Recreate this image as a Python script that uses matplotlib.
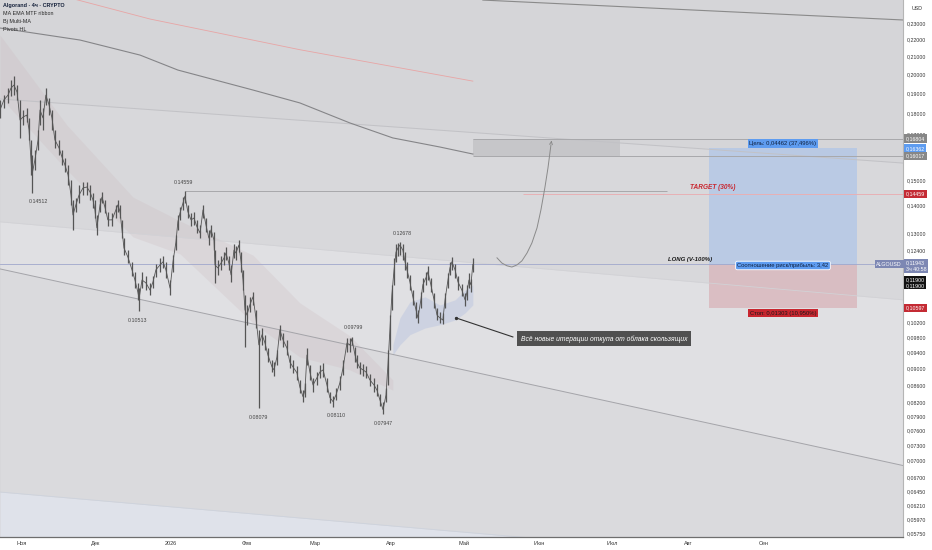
import matplotlib

matplotlib.use("Agg")
import matplotlib.dates as mdates
import matplotlib.pyplot as plt
import matplotlib.transforms as mtransforms
import numpy as np
import pandas as pd

plt.rcParams["font.family"] = ["Liberation Sans", "DejaVu Sans"]

BASE = pd.Timestamp("2025-11-01")

# ALGOUSD: days after 1 Nov 2025, close / high / low
day = [-9.0, -7.4, -5.7, -4.5, -3.3, -2.0, -0.8, 0.4, 2.0, 2.9, 3.7, 4.1, 5.3, 6.6, 7.4, 8.6,
       9.8, 11.1, 12.3, 13.5, 15.2, 16.4, 17.6, 18.9, 20.1, 20.9, 22.1, 23.4, 25.0, 26.6, 27.9,
       29.1, 29.9, 30.7, 32.0, 32.8, 34.0, 35.2, 36.9, 38.5, 39.3, 40.2, 41.0, 41.8, 43.4, 45.1,
       46.3, 47.5, 48.0, 49.2, 50.8, 52.5, 53.7, 54.9, 56.6, 57.8, 59.0, 60.7, 61.9, 63.1, 63.9,
       64.8, 66.0, 66.8, 68.0, 69.3, 70.5, 71.7, 73.0, 74.2, 75.4, 76.6, 77.5, 78.7, 79.1, 80.3,
       81.6, 82.8, 83.6, 84.8, 85.7, 86.9, 87.7, 88.9, 89.8, 90.6, 91.4, 92.2, 93.4, 94.7, 95.9,
       97.1, 98.4, 99.6, 100.8, 102.5, 103.3, 104.5, 105.7, 107.0, 108.6, 109.8, 111.1, 112.7,
       113.9, 115.2, 116.0, 116.8, 118.0, 119.3, 120.9, 122.1, 123.4, 125.0, 126.2, 127.5, 128.7,
       130.3, 131.6, 133.2, 134.4, 135.2, 136.5, 137.3, 138.5, 139.8, 141.0, 142.6, 144.3, 145.5,
       146.7, 148.0, 149.2, 150.0, 150.8, 151.6, 152.5, 153.3, 154.1, 154.9, 156.1, 157.0, 157.8,
       159.0, 160.2, 161.5, 162.3, 163.5, 164.3, 165.6, 166.4, 167.6, 168.9, 170.1, 171.3, 172.5,
       173.4, 174.6, 175.4, 176.2, 177.5, 178.7, 180.3, 181.6, 182.4, 183.2, 184.0, 184.8]
close = [0.1816, 0.1866, 0.1891, 0.1927, 0.1943, 0.1906, 0.1767, 0.1781, 0.1791, 0.1720, 0.1585,
         0.1522, 0.1585, 0.1674, 0.1816, 0.1777, 0.1891, 0.1841, 0.1777, 0.1674, 0.1638, 0.1598,
         0.1564, 0.1522, 0.1441, 0.1365, 0.1403, 0.1441, 0.1469, 0.1473, 0.1453, 0.1422, 0.1384,
         0.1318, 0.1403, 0.1433, 0.1395, 0.1347, 0.1347, 0.1384, 0.1403, 0.1377, 0.1311, 0.1248,
         0.1218, 0.1176, 0.1144, 0.1107, 0.1087, 0.1144, 0.1135, 0.1113, 0.1138, 0.1176, 0.1192,
         0.1202, 0.1176, 0.1119, 0.1202, 0.1268, 0.1340, 0.1373, 0.1410, 0.1437, 0.1377, 0.1347,
         0.1354, 0.1322, 0.1300, 0.1384, 0.1329, 0.1282, 0.1311, 0.1275, 0.1192, 0.1182, 0.1198,
         0.1214, 0.1231, 0.1198, 0.1160, 0.1241, 0.1231, 0.1258, 0.1202, 0.1144, 0.1055, 0.1040,
         0.1069, 0.1093, 0.1032, 0.0959, 0.0986, 0.0964, 0.0933, 0.0903, 0.0896, 0.0928, 0.0999,
         0.0972, 0.0951, 0.0915, 0.0903, 0.0889, 0.0855, 0.0833, 0.0848, 0.0933, 0.0891, 0.0860,
         0.0877, 0.0891, 0.0896, 0.0860, 0.0831, 0.0822, 0.0837, 0.0865, 0.0901, 0.0964, 0.0959,
         0.0975, 0.0933, 0.0915, 0.0901, 0.0896, 0.0891, 0.0872, 0.0860, 0.0848, 0.0826, 0.0804,
         0.0837, 0.0908, 0.0999, 0.1098, 0.1176, 0.1234, 0.1248, 0.1258, 0.1241, 0.1202, 0.1176,
         0.1138, 0.1093, 0.1055, 0.1032, 0.1084, 0.1129, 0.1151, 0.1170, 0.1129, 0.1084, 0.1040,
         0.1032, 0.1026, 0.1084, 0.1144, 0.1182, 0.1202, 0.1176, 0.1138, 0.1113, 0.1084, 0.1107,
         0.1144, 0.1129, 0.1194]
high = [0.1866, 0.1891, 0.1927, 0.1970, 0.1992, 0.1943, 0.1866, 0.1816, 0.1826, 0.1777, 0.1674,
        0.1607, 0.1629, 0.1720, 0.1866, 0.1826, 0.1927, 0.1876, 0.1816, 0.1720, 0.1674, 0.1629,
        0.1594, 0.1564, 0.1501, 0.1422, 0.1430, 0.1481, 0.1493, 0.1493, 0.1481, 0.1449, 0.1422,
        0.1365, 0.1430, 0.1453, 0.1422, 0.1377, 0.1373, 0.1403, 0.1422, 0.1403, 0.1347, 0.1282,
        0.1241, 0.1202, 0.1170, 0.1135, 0.1119, 0.1170, 0.1157, 0.1135, 0.1157, 0.1195, 0.1214,
        0.1221, 0.1202, 0.1144, 0.1224, 0.1293, 0.1365, 0.1395, 0.1433, 0.1456, 0.1403, 0.1373,
        0.1377, 0.1347, 0.1329, 0.1403, 0.1354, 0.1311, 0.1329, 0.1304, 0.1241, 0.1208, 0.1221,
        0.1234, 0.1251, 0.1221, 0.1192, 0.1261, 0.1255, 0.1275, 0.1234, 0.1176, 0.1098, 0.1069,
        0.1093, 0.1107, 0.1055, 0.0999, 0.1004, 0.0986, 0.0951, 0.0920, 0.0915, 0.0946, 0.1013,
        0.0991, 0.0972, 0.0933, 0.0920, 0.0906, 0.0872, 0.0848, 0.0865, 0.0951, 0.0908, 0.0877,
        0.0891, 0.0908, 0.0913, 0.0877, 0.0844, 0.0835, 0.0853, 0.0882, 0.0920, 0.0978, 0.0977,
        0.0980, 0.0954, 0.0933, 0.0915, 0.0910, 0.0906, 0.0886, 0.0877, 0.0862, 0.0840, 0.0822,
        0.0853, 0.0946, 0.1040, 0.1129, 0.1214, 0.1261, 0.1265, 0.1268, 0.1262, 0.1234, 0.1202,
        0.1160, 0.1113, 0.1078, 0.1055, 0.1107, 0.1151, 0.1170, 0.1189, 0.1151, 0.1104, 0.1060,
        0.1049, 0.1046, 0.1104, 0.1166, 0.1202, 0.1218, 0.1195, 0.1157, 0.1132, 0.1104, 0.1129,
        0.1166, 0.1148, 0.1214]
low = [0.1777, 0.1826, 0.1851, 0.1886, 0.1891, 0.1866, 0.1683, 0.1743, 0.1757, 0.1674, 0.1522,
       0.1451, 0.1543, 0.1629, 0.1743, 0.1720, 0.1841, 0.1791, 0.1720, 0.1638, 0.1607, 0.1564,
       0.1535, 0.1481, 0.1403, 0.1311, 0.1377, 0.1410, 0.1441, 0.1441, 0.1422, 0.1392, 0.1354,
       0.1293, 0.1377, 0.1410, 0.1373, 0.1325, 0.1325, 0.1354, 0.1377, 0.1354, 0.1282, 0.1224,
       0.1198, 0.1157, 0.1119, 0.1084, 0.1051, 0.1119, 0.1113, 0.1098, 0.1119, 0.1154, 0.1170,
       0.1182, 0.1151, 0.1098, 0.1170, 0.1241, 0.1311, 0.1347, 0.1384, 0.1410, 0.1354, 0.1325,
       0.1329, 0.1300, 0.1282, 0.1354, 0.1304, 0.1258, 0.1286, 0.1241, 0.1135, 0.1160, 0.1176,
       0.1192, 0.1208, 0.1176, 0.1138, 0.1214, 0.1208, 0.1234, 0.1170, 0.1113, 0.0954, 0.1013,
       0.1049, 0.1069, 0.1004, 0.0808, 0.0959, 0.0946, 0.0915, 0.0891, 0.0882, 0.0908, 0.0972,
       0.0954, 0.0933, 0.0901, 0.0889, 0.0872, 0.0842, 0.0822, 0.0833, 0.0908, 0.0872, 0.0844,
       0.0860, 0.0877, 0.0879, 0.0844, 0.0819, 0.0811, 0.0826, 0.0848, 0.0884, 0.0941, 0.0941,
       0.0959, 0.0915, 0.0901, 0.0886, 0.0882, 0.0877, 0.0858, 0.0844, 0.0835, 0.0813, 0.0795,
       0.0822, 0.0860, 0.0946, 0.1055, 0.1129, 0.1202, 0.1221, 0.1224, 0.1208, 0.1176, 0.1151,
       0.1113, 0.1069, 0.1032, 0.1018, 0.1060, 0.1107, 0.1129, 0.1144, 0.1107, 0.1060, 0.1026,
       0.1018, 0.1015, 0.1060, 0.1119, 0.1160, 0.1176, 0.1151, 0.1113, 0.1095, 0.1066, 0.1084,
       0.1119, 0.1107, 0.1170]

# pivots HL
pivot_day = [6.6, 66.0, 47.5, 155.7, 135.7, 97.1, 128.7, 148.0]
pivot_price = [0.14512, 0.14559, 0.10513, 0.12678, 0.09799, 0.08079, 0.08110, 0.07947]
pivot_side = [-1, 1, -1, 1, 1, -1, -1, -1]

# moving averages
ma_day = [-9.0, 23.8, 48.4, 63.9, 94.7, 113.9, 134.4, 152.0, 171.3, 184.8]
ma_price = [0.2269, 0.2196, 0.2108, 0.2024, 0.1917, 0.1851, 0.1753, 0.1683, 0.1642, 0.1611]
red_ma_day = [19.7, 52.5, 113.9, 184.8]
red_ma_price = [0.2462, 0.2325, 0.2139, 0.1964]

# EMA ribbon (upper / lower edge)
ribbon_day = [-9.0, 18.4, 45.5, 64.8, 94.7, 113.9, 134.4, 152.0]
ribbon_hi = [0.2226, 0.1743, 0.1433, 0.1343, 0.1224, 0.1075, 0.0983, 0.0872]
ribbon_lo = [0.1881, 0.1543, 0.1286, 0.1228, 0.1018, 0.0928, 0.0896, 0.0848]

# blue MA cloud under the April range
cloud_day = [152.0, 154.9, 159.0, 165.2, 171.3, 177.5, 181.6, 184.8]
cloud_hi = [0.0959, 0.1032, 0.1078, 0.1093, 0.1069, 0.1084, 0.1113, 0.1129]
cloud_lo = [0.0933, 0.0959, 0.0986, 0.1004, 0.1013, 0.1026, 0.1046, 0.1069]

# trend channels (start / end)
chan_day = [-9.0, 361.1]
line_a = [0.1871, 0.1572]
line_b = [0.1340, 0.1084]
line_c = [0.1179, 0.0691]
line_d = [0.0643, 0.0520]
top_line_day = [188.9, 361.1]
top_line = [0.2448, 0.2319]

# projection arrow
arrow_day = [194.7, 196.7, 198.8, 200.8, 202.9, 204.9, 207.0, 209.0, 211.1, 212.7, 214.3, 215.6,
             216.8, 217.2]
arrow_price = [0.1215, 0.1198, 0.1189, 0.1185, 0.1192, 0.1205, 0.1231, 0.1265, 0.1318, 0.1384,
               0.1469, 0.1552, 0.1651, 0.1683]

# long position tool
entry, target, stop = 0.11900, 0.16362, 0.10597
last_price = 0.11943
zone_top, zone_bottom = 0.16804, 0.16017
target_level = 0.14459

month_labels = ["Ноя", "Дек", "2026", "Фев", "Мар", "Апр", "Май", "Июн", "Июл", "Авг", "Сен"]
price_ticks = [0.23, 0.22, 0.21, 0.20, 0.19, 0.18, 0.17, 0.15, 0.14, 0.13, 0.124, 0.102,
               0.098, 0.094, 0.090, 0.086, 0.082, 0.079, 0.076, 0.073, 0.070, 0.067, 0.0645,
               0.0621, 0.0597, 0.0575]

t0 = mdates.date2num(BASE)


def T(d):
    return t0 + np.asarray(d, dtype=float)


def fmt(v):
    return f"{v:.5f}".replace(".", ",")


W, H = 932, 550
fig = plt.figure(figsize=(W / 100, H / 100), dpi=100)
fig.patch.set_facecolor("white")
ax = fig.add_axes([0, 13 / H, 903 / W, 537 / H])
ax.set_yscale("log")
ax.set_xlim(T(-9.0), T(361.1))
ax.set_ylim(0.05690, 0.24484)
ax.set_facecolor("#d5d5d8")

# background channels
xs = T(chan_day)
ax.fill_between(xs, line_a, line_b, color="#d8d8db", lw=0)
ax.fill_between(xs, line_b, line_c, color="#e0e0e3", lw=0)
ax.fill_between(xs, line_c, line_d, color="#dadadd", lw=0)
ax.fill_between(xs, line_d, [0.04, 0.04], color="#dfe2ea", lw=0)
ax.plot(xs, line_a, color="#c2c2c6", lw=0.7)
ax.plot(xs, line_b, color="#d2d2d6", lw=0.6)
ax.plot(xs, line_c, color="#a4a4a9", lw=0.7)
ax.plot(xs, line_d, color="#cdd2dc", lw=0.6)
ax.plot(T(top_line_day), top_line, color="#8a8a8a", lw=0.8)

# ribbons
ax.fill_between(T(ribbon_day), ribbon_lo, ribbon_hi, color="#c9b4b9", alpha=0.22, lw=0)
ax.fill_between(T(cloud_day), cloud_lo, cloud_hi, color="#bcc6e0", alpha=0.5, lw=0)

ax.plot(T(ma_day), ma_price, color="#858588", lw=0.8)
ax.plot(T(red_ma_day), red_ma_price, color="#e8a5a5", lw=0.6)

# levels
ax.axhline(last_price, color="#a0a7cc", lw=0.6)
ax.fill_between(T([184.8, 245.1]), zone_bottom, zone_top, color="#c6c6c9", lw=0)
ax.hlines([zone_top, zone_bottom], T(184.8), T(361.1), color="#a8a8ab", lw=0.7)
ax.hlines(0.14559, T(66.8), T(264.3), color="#a8a8ab", lw=0.7)
ax.hlines(target_level, T(205.3), T(361.1), color="#e8b0b4", lw=0.7)

# price
ax.vlines(T(day), low, high, color="#555555", lw=0.9)
ax.plot(T(day), close, color="#555555", lw=0.6)

for d, p, s in zip(pivot_day, pivot_price, pivot_side):
    ax.annotate(f"{p:.5f}", xy=(T(d), p), xytext=(0, 9 * s), textcoords="offset pixels",
                ha="center", va="center", fontsize=3.8, color="#444444")

# projection arrow
ax.plot(T(arrow_day[:-1]), arrow_price[:-1], color="#8a8a8a", lw=0.7)
ax.annotate("", xy=(T(arrow_day[-1]), arrow_price[-1]),
            xytext=(T(arrow_day[-2]), arrow_price[-2]),
            arrowprops=dict(arrowstyle="->", color="#8a8a8a", lw=0.7, mutation_scale=5))

# callout
ax.plot([T(177.9), T(201.2)], [0.1032, 0.0980], color="#333333", lw=0.8)
ax.plot(T(177.9), 0.1032, "o", ms=1.4, color="#333333")
ax.text(T(238.5), 0.0975, "Всё новые итерации откупа от облака скользящих", fontsize=4.9,
        style="italic", color="white", ha="center", va="center",
        bbox=dict(boxstyle="square,pad=0.55", fc="#505050", ec="none"))

# long position
ax.fill_between(T([281.6, 342.2]), entry, target, color="#b5c8e6", alpha=0.85, lw=0)
ax.fill_between(T([281.6, 342.2]), stop, entry, color="#d9b9be", alpha=0.85, lw=0)
mid = T(311.9)
ax.annotate("Цель: 0,04462 (37,496%)", xy=(mid, target), xytext=(0, 5), textcoords="offset pixels",
            ha="center", va="center", fontsize=4.2, color="#10213f",
            bbox=dict(boxstyle="square,pad=0.3", fc="#5e9cf0", ec="none"))
ax.text(mid, entry, "Соотношение риск/прибыль: 3,42", ha="center", va="center", fontsize=4.2,
        color="#10213f", bbox=dict(boxstyle="round,pad=0.3", fc="#5e9cf0", ec="white", lw=0.6))
ax.annotate("Стоп: 0,01303 (10,950%)", xy=(mid, stop), xytext=(0, -5), textcoords="offset pixels",
            ha="center", va="center", fontsize=4.2, color="#1a1a1a",
            bbox=dict(boxstyle="square,pad=0.3", fc="#c8262f", ec="none"))
ax.text(T(283.2), 0.1470, "TARGET (30%)", ha="center", va="center", fontsize=4.7,
        style="italic", weight="bold", color="#c8262f")
ax.text(T(273.8), 0.1211, "LONG (V-100%)", ha="center", va="center", fontsize=4.3,
        style="italic", weight="bold", color="#1a1a1a")

# axes
for side in ("top", "left"):
    ax.spines[side].set_visible(False)
ax.spines["right"].set_color("#b5b5b5")
ax.spines["right"].set_linewidth(0.8)
ax.spines["bottom"].set_color("#6e6e6e")
ax.spines["bottom"].set_linewidth(0.9)

ax.yaxis.tick_right()
ax.yaxis.set_minor_locator(matplotlib.ticker.NullLocator())
ax.set_yticks(price_ticks)
ax.set_yticklabels([fmt(v) for v in price_ticks])
ax.tick_params(axis="y", length=0, pad=3, labelsize=3.8, labelcolor="#333333")

months = pd.date_range("2025-11-01", "2026-09-01", freq="MS")
ax.set_xticks(mdates.date2num(months))
ax.set_xticklabels(month_labels)
ax.tick_params(axis="x", length=0, pad=3, labelsize=4.0, labelcolor="#333333")

# price scale badges
tr = mtransforms.blended_transform_factory(ax.transAxes, ax.transData)


def badge(text, price, fc, tc="white", dy=0):
    ax.annotate(text, xy=(1.003, price), xycoords=tr, xytext=(0, dy), textcoords="offset pixels",
                ha="left", va="center", fontsize=3.8, color=tc, annotation_clip=False,
                bbox=dict(boxstyle="square,pad=0.3", fc=fc, ec="none"))


badge(fmt(zone_top), zone_top, "#878787")
badge(fmt(target), target, "#5e9cf0")
badge(fmt(zone_bottom), zone_bottom, "#878787")
badge(fmt(target_level), target_level, "#c42b34")
badge(fmt(last_price) + "\n3ч 40:58", last_price, "#7d87b3", dy=-2)
badge(fmt(entry) + "\n" + fmt(entry), entry, "#111111", dy=-17)
badge(fmt(stop), stop, "#c42b34")
ax.annotate("ALGOUSD", xy=(0.999, last_price), xycoords=tr, ha="right", va="center", fontsize=3.8,
            color="white", bbox=dict(boxstyle="square,pad=0.3", fc="#7d87b3", ec="none"))

fig.text(912 / W, 1 - 8 / H, "USD", fontsize=3.8, color="#333333", ha="left", va="center")

legend = ["Algorand · 4ч · CRYPTO", "MA EMA MTF ribbon", "Bj Multi-MA", "Pivots HL"]
for i, line in enumerate(legend):
    fig.text(3 / W, 1 - (6 + 7.8 * i) / H, line, fontsize=3.9, ha="left", va="center",
             color="#14203a" if i == 0 else "#2a2a2a", weight="bold" if i == 0 else "normal")

fig.savefig("out.png", dpi=100, facecolor=fig.get_facecolor())
